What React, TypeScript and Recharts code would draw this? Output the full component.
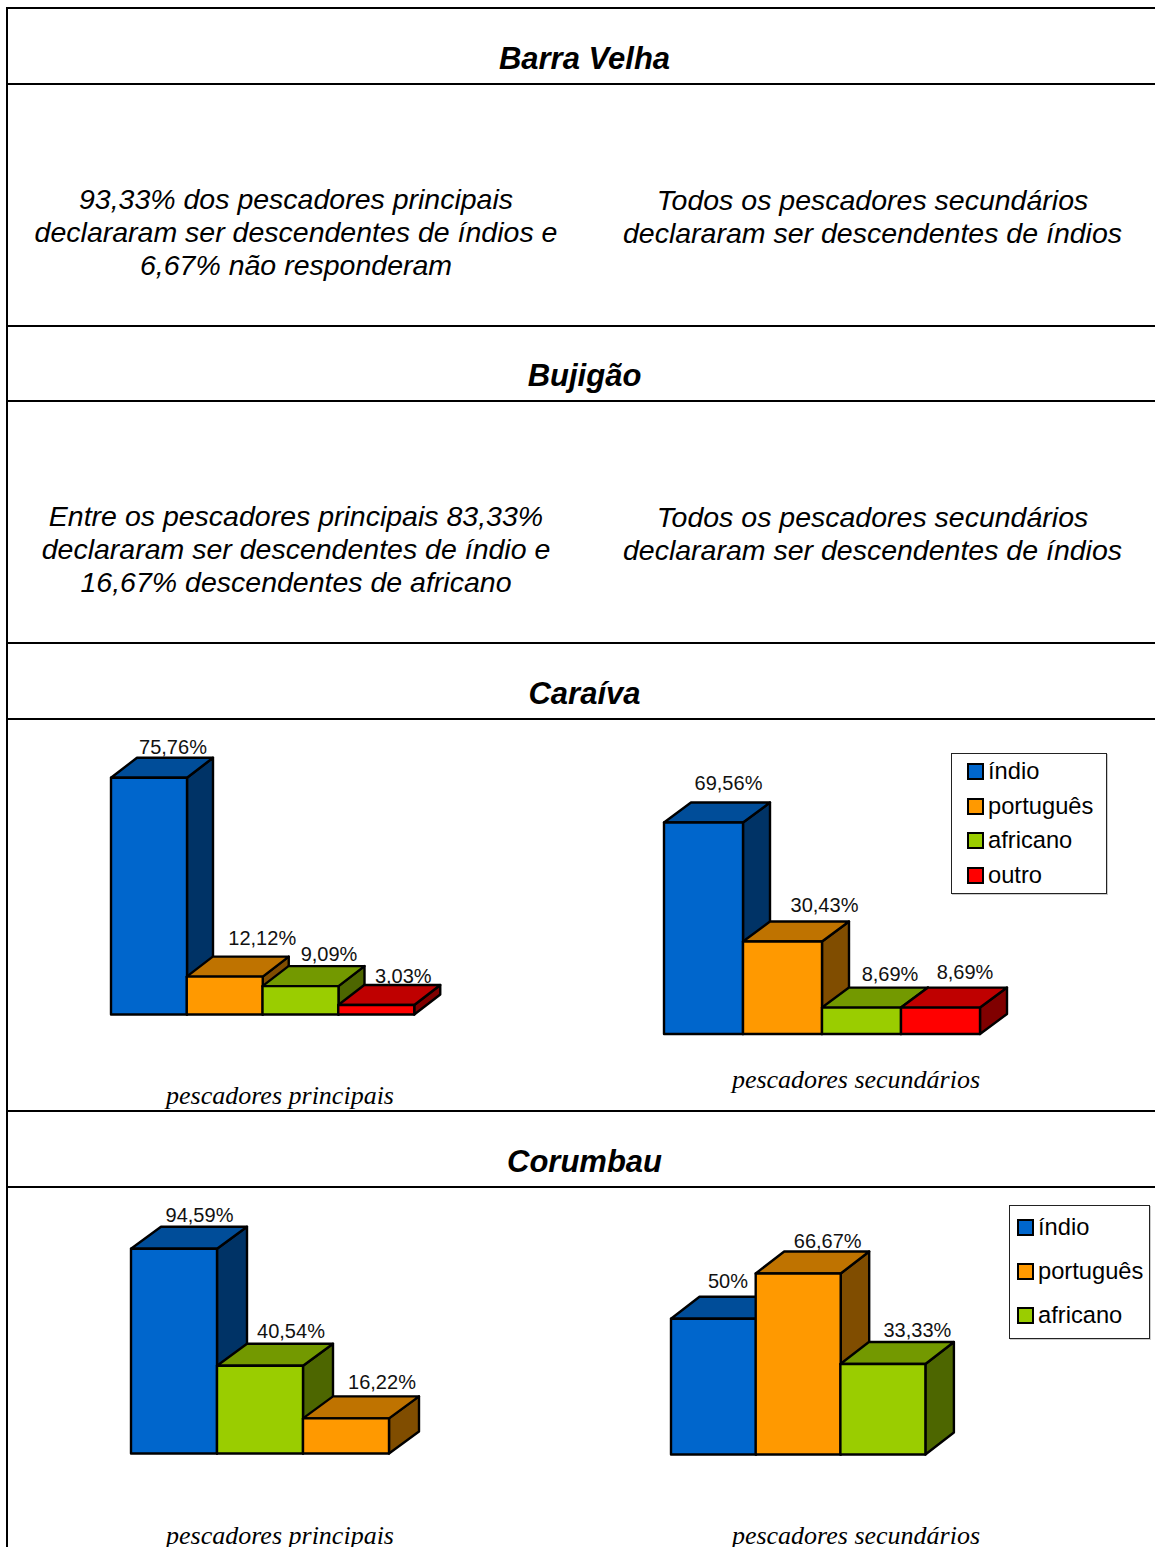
import { Bar, BarChart, LabelList, XAxis, YAxis } from "recharts";

const SANS = "'Liberation Sans', Arial, sans-serif";
const SERIF = "'Liberation Serif', 'Times New Roman', serif";

// values
const caraivaPrincipalCats = ["índio", "português", "africano", "outro"];
const caraivaPrincipalValues = [75.76, 12.12, 9.09, 3.03];
const caraivaSecundarioCats = ["índio", "português", "africano", "outro"];
const caraivaSecundarioValues = [69.56, 30.43, 8.69, 8.69];
const corumbauPrincipalCats = ["índio", "africano", "português"];
const corumbauPrincipalValues = [94.59, 40.54, 16.22];
const corumbauSecundarioCats = ["índio", "português", "africano"];
const corumbauSecundarioValues = [50, 66.67, 33.33];

const legendCaraiva = ["índio", "português", "africano", "outro"];
const legendCorumbau = ["índio", "português", "africano"];

const palette: Record<string, string[]> = {
  índio: ["#0066CC", "#004D99", "#003366"],
  português: ["#FF9900", "#BF7300", "#804D00"],
  africano: ["#9ACD00", "#739900", "#4D6600"],
  outro: ["#FF0000", "#BF0000", "#800000"],
};

const ruleRows = [7, 83, 325, 400, 642, 718, 1110, 1186];

function Bar3D(props: any) {
  const { x, y, width, height, payload, dx, dy } = props;
  const [front, top, side] = palette[payload.name];
  const r = x + width;
  const b = y + height;
  return (
    <g stroke="#000" strokeWidth={2.4} strokeLinejoin="round">
      <polygon fill={side} points={`${r},${y} ${r + dx},${y - dy} ${r + dx},${b - dy} ${r},${b}`} />
      <polygon fill={top} points={`${x},${y} ${x + dx},${y - dy} ${r + dx},${y - dy} ${r},${y}`} />
      <rect fill={front} x={x} y={y} width={width} height={height} />
    </g>
  );
}

interface Chart3DProps {
  cats: string[];
  values: number[];
  left: number;
  baseline: number;
  barWidth: number;
  pxPerUnit: number;
  dx: number;
  dy: number;
  labelShift: number[][];
}

function Chart3D({ cats, values, left, baseline, barWidth, pxPerUnit, dx, dy, labelShift }: Chart3DProps) {
  const data = cats.map((name, i) => ({ name, value: values[i] }));
  const plotH = pxPerUnit * 100;
  const pad = 5;
  const topPad = 50;
  const plotW = barWidth * cats.length;
  const w = plotW + dx + pad * 2;
  const h = plotH + topPad + pad;

  const renderLabel = (p: any) => {
    const [sx, sy] = labelShift[p.index];
    return (
      <text
        x={p.x + p.width / 2 + dx + sx}
        y={p.y - dy - sy}
        textAnchor="middle"
        dominantBaseline="central"
        fontFamily={SANS}
        fontSize={20}
        fill="#111"
      >
        {String(p.value).replace(".", ",")}%
      </text>
    );
  };

  return (
    <div style={{ position: "absolute", left: left - pad, top: baseline - plotH - topPad }}>
      <BarChart
        width={w}
        height={h}
        data={data}
        barCategoryGap={0}
        margin={{ top: topPad, right: dx + pad, bottom: pad, left: pad }}
      >
        <XAxis dataKey="name" hide />
        <YAxis hide domain={[0, 100]} />
        <Bar
          dataKey="value"
          isAnimationActive={false}
          shape={(p: any) => <Bar3D {...p} dx={dx} dy={dy} />}
        >
          <LabelList dataKey="value" content={renderLabel} />
        </Bar>
      </BarChart>
    </div>
  );
}

function LegendBox({ items, left, top, width, height, swatchLeft, rows }: any) {
  return (
    <div
      style={{
        position: "absolute",
        left,
        top,
        width,
        height,
        boxSizing: "border-box",
        border: "1px solid #222",
        boxShadow: "1px 1px 0 #ccc",
        background: "#fff",
      }}
    >
      {items.map((item: string, i: number) => (
        <div key={item}>
          <div
            style={{
              position: "absolute",
              left: swatchLeft,
              top: rows[i] - 8 - top - 1,
              width: 17,
              height: 17,
              boxSizing: "border-box",
              border: "2px solid #000",
              background: palette[item][0],
            }}
          />
          <div
            style={{
              position: "absolute",
              left: swatchLeft + 21,
              top: rows[i] - 15 - top - 1,
              height: 30,
              lineHeight: "30px",
              fontFamily: SANS,
              fontSize: 23.7,
              whiteSpace: "nowrap",
            }}
          >
            {item}
          </div>
        </div>
      ))}
    </div>
  );
}

function Line({ text, cx, cy, font, size, weight, italic = true }: any) {
  return (
    <div
      style={{
        position: "absolute",
        left: cx - 400,
        top: cy - 25,
        width: 800,
        height: 50,
        lineHeight: "50px",
        textAlign: "center",
        fontFamily: font,
        fontSize: size,
        fontWeight: weight,
        fontStyle: italic ? "italic" : "normal",
        whiteSpace: "nowrap",
        color: "#000",
      }}
    >
      {text}
    </div>
  );
}

const headings: [string, number][] = [
  ["Barra Velha", 59],
  ["Bujigão", 376],
  ["Caraíva", 694],
  ["Corumbau", 1162],
];

const notes: [string, number, number][] = [
  ["93,33% dos pescadores principais", 296, 199],
  ["declararam ser descendentes de índios e", 296, 232],
  ["6,67% não responderam", 296, 265],
  ["Todos os pescadores secundários", 872.5, 200],
  ["declararam ser descendentes de índios", 872.5, 233],
  ["Entre os pescadores principais 83,33%", 296, 516],
  ["declararam ser descendentes de índio e", 296, 549],
  ["16,67% descendentes de africano", 296, 582],
  ["Todos os pescadores secundários", 872.5, 517],
  ["declararam ser descendentes de índios", 872.5, 550],
];

const captions: [string, number, number][] = [
  ["pescadores principais", 280, 1096],
  ["pescadores secundários", 856, 1080],
  ["pescadores principais", 280, 1536],
  ["pescadores secundários", 856, 1536],
];

export default function App() {
  return (
    <div
      style={{
        position: "absolute",
        left: 0,
        top: 0,
        width: 1155,
        height: 1547,
        overflow: "hidden",
        background: "#fff",
      }}
    >
      <div style={{ position: "absolute", left: 6, top: 7, width: 2, height: 1540, background: "#000" }} />
      {ruleRows.map((y) => (
        <div key={y} style={{ position: "absolute", left: 6, top: y, width: 1149, height: 2, background: "#000" }} />
      ))}

      {headings.map(([t, y]) => (
        <Line key={t} text={t} cx={584.5} cy={y} font={SANS} size={31} weight="bold" />
      ))}
      {notes.map(([t, x, y], i) => (
        <Line key={i} text={t} cx={x} cy={y} font={SANS} size={28.5} />
      ))}
      {captions.map(([t, x, y], i) => (
        <Line key={i} text={t} cx={x} cy={y} font={SERIF} size={26} />
      ))}

      <Chart3D
        cats={caraivaPrincipalCats}
        values={caraivaPrincipalValues}
        left={111}
        baseline={1014.5}
        barWidth={75.75}
        pxPerUnit={3.125}
        dx={26}
        dy={20}
        labelShift={[[-2, 11], [11.5, 19], [2.5, 11.6], [1, 9]]}
      />
      <Chart3D
        cats={caraivaSecundarioCats}
        values={caraivaSecundarioValues}
        left={664}
        baseline={1034}
        barWidth={79}
        pxPerUnit={3.04}
        dx={27}
        dy={20}
        labelShift={[[-2, 19.5], [15, 16], [1.5, 13.6], [-2.5, 15.6]]}
      />
      <LegendBox
        items={legendCaraiva}
        left={951}
        top={753}
        width={156}
        height={141}
        swatchLeft={15}
        rows={[771, 806, 840, 875]}
      />

      <Chart3D
        cats={corumbauPrincipalCats}
        values={corumbauPrincipalValues}
        left={131}
        baseline={1453.5}
        barWidth={86}
        pxPerUnit={2.165}
        dx={30}
        dy={22}
        labelShift={[[-4.5, 12], [1, 13], [6, 14]]}
      />
      <Chart3D
        cats={corumbauSecundarioCats}
        values={corumbauSecundarioValues}
        left={670.5}
        baseline={1454.5}
        barWidth={84.7}
        pxPerUnit={2.715}
        dx={28.5}
        dy={22}
        labelShift={[[-14, 16], [1, 10], [6, 12]]}
      />
      <LegendBox
        items={legendCorumbau}
        left={1009}
        top={1205}
        width={141}
        height={134}
        swatchLeft={7}
        rows={[1227, 1271, 1315]}
      />
    </div>
  );
}
